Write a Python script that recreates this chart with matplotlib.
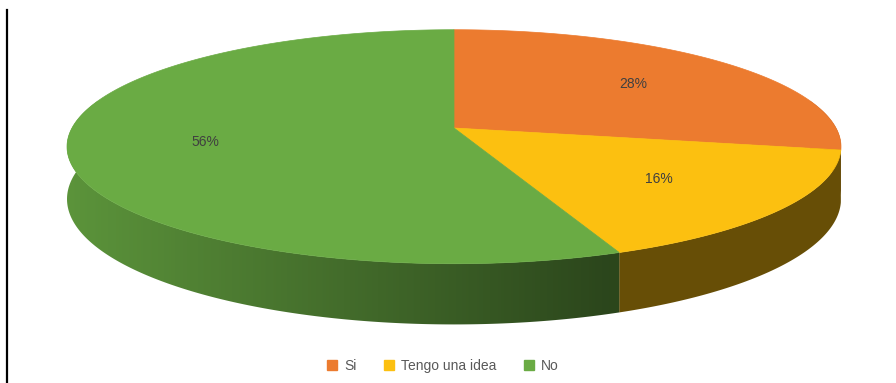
import numpy as np
import matplotlib.pyplot as plt
from matplotlib.colors import LinearSegmentedColormap, to_rgb
from matplotlib.patches import Polygon, Patch
from matplotlib.lines import Line2D

labels = ["Si", "Tengo una idea", "No"]
values = [28, 16, 56]
top_colors = ["#ec7b2f", "#fcc010", "#6aab44"]

# pie geometry (pixel space) and perspective factor
CX, CY = 454, 128
RX, RY = 382, 114
K = 0.16
DEPTH = 51

def project(theta, r=1.0):
    u = r * np.cos(theta)
    v = r * np.sin(theta)
    d = 1 + K * v
    return CX + RX * u / d, CY - RY * v / d

def depth_at(theta):
    return DEPTH / (1 + K * np.sin(theta))

fig = plt.figure(figsize=(8.96, 3.83), dpi=100)
ax = fig.add_axes([0, 0, 1, 1])
ax.set_xlim(0, 896)
ax.set_ylim(383, 0)
ax.axis("off")

fracs = np.array(values) / sum(values)
starts = np.pi / 2 - 2 * np.pi * np.concatenate([[0], np.cumsum(fracs)[:-1]])
ends = starts - 2 * np.pi * fracs

# horizontal shading for the rim: lit on the left, darker to the right
xs_grad = np.linspace(0, 896, 600)
shade = 0.86 - 0.45 * np.clip((xs_grad - 70) / 540, 0, 1)

# side walls, drawn first so the tops cover the hidden back part
for s, e, col in zip(starts, ends, top_colors):
    th = np.linspace(min(s, 0.25), max(e, -np.pi - 0.25), 400)
    if len(th) < 2 or th[0] <= th[-1]:
        continue
    tx, ty = project(th)
    by = ty + depth_at(th)
    pts = list(zip(tx, ty)) + list(zip(tx[::-1], by[::-1]))
    poly = Polygon(pts, closed=True, facecolor="none", edgecolor="none")
    ax.add_patch(poly)
    rgb = np.array(to_rgb(col))
    cmap = LinearSegmentedColormap.from_list(
        "rim", [tuple(np.clip(rgb * f, 0, 1)) for f in shade])
    img = ax.imshow(np.linspace(0, 1, 600)[None, :], cmap=cmap, aspect="auto",
                    extent=(0, 896, 383, 0), interpolation="bilinear")
    img.set_clip_path(poly)

# top faces
for s, e, col in zip(starts, ends, top_colors):
    th = np.linspace(s, e, 300)
    xs, ys = project(th)
    pts = [(CX, CY)] + list(zip(xs, ys))
    ax.add_patch(Polygon(pts, closed=True, facecolor=col, edgecolor=col, lw=0.5))

# percentage labels
for s, e, v in zip(starts, ends, values):
    mid = (s + e) / 2
    lx, ly = project(mid, 0.65)
    ax.text(lx, ly, f"{v}%", ha="center", va="center", fontsize=10,
            color="#404040", family="Liberation Sans")

handles = [Patch(facecolor=c, edgecolor=c) for c in top_colors]
ax.legend(handles, labels, loc="center", bbox_to_anchor=(443 / 896, 1 - 366 / 383),
          ncol=3, frameon=False, handlelength=0.7, handleheight=0.7,
          handletextpad=0.5, columnspacing=2.0,
          prop={"family": "Liberation Sans", "size": 10}, labelcolor="#595959")

fig.add_artist(Line2D([7 / 896, 7 / 896], [0, 1 - 10 / 383], color="black", lw=1.6))

fig.savefig("out.png", dpi=100)
